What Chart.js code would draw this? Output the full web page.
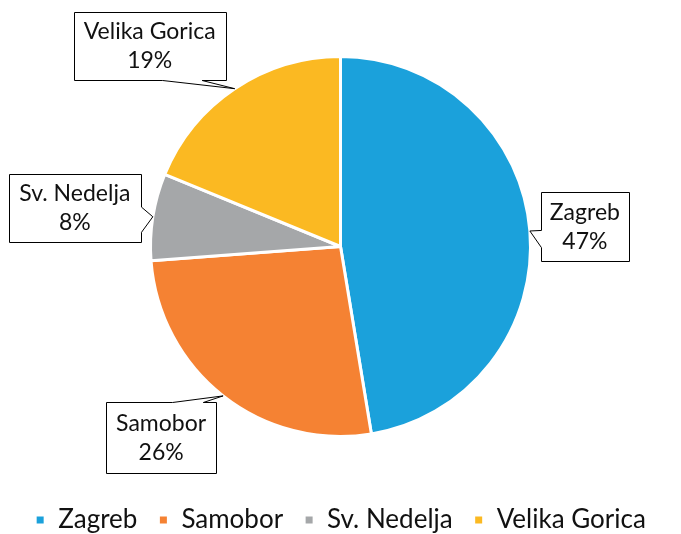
<!DOCTYPE html>
<html>
<head>
<meta charset="utf-8">
<script src="https://cdn.jsdelivr.net/npm/chart.js@4"></script>
<style>
  html, body { margin: 0; padding: 0; background: #fff; overflow: hidden; }
  #wrap { width: 681px; height: 543px; }
</style>
</head>
<body>
<div id="wrap"><canvas id="micanvas"></canvas></div>
<script>
let gradovi = ["Zagreb", "Samobor", "Sv. Nedelja", "Velika Gorica"]
let udjeli = [47.4, 26.4, 7.4, 18.8]
let postoci = ["47%", "26%", "8%", "19%"]
let boje = ["#1ba1db", "#f58233", "#a5a7a9", "#fbb922"]

// oblacici s natpisima: pomak od tocke na luku, strana s repom
let oblacici = [
  { dx: 55, dy: -4, w: 88, h: 69, strana: "left", od: 0.55, do: 0.8 },
  { dx: -62, dy: 42, w: 110, h: 71, strana: "top", od: 0.6, do: 0.88 },
  { dx: -78, dy: -9, w: 132, h: 68, strana: "right", od: 0.48, do: 0.85 },
  { dx: -85, dy: -43, w: 152, h: 68, strana: "bottom", od: 0.58, do: 0.84 }
]

const natpisi = {
  id: 'natpisi',
  afterDatasetsDraw(chart) {
    const ctx = chart.ctx
    const meta = chart.getDatasetMeta(0)
    meta.data.forEach((luk, i) => {
      const p = luk.getProps(['x', 'y', 'startAngle', 'endAngle', 'outerRadius'])
      const kut = (p.startAngle + p.endAngle) / 2
      const tx = p.x + Math.cos(kut) * p.outerRadius
      const ty = p.y + Math.sin(kut) * p.outerRadius
      const o = oblacici[i]
      const cx = tx + o.dx, cy = ty + o.dy
      const x0 = Math.round(cx - o.w / 2) + 0.5, y0 = Math.round(cy - o.h / 2) + 0.5
      const x1 = x0 + o.w, y1 = y0 + o.h
      // obrub s repom
      ctx.save()
      ctx.beginPath()
      ctx.moveTo(x0, y0)
      if (o.strana === "top") {
        ctx.lineTo(x0 + o.w * o.od, y0); ctx.lineTo(tx, ty); ctx.lineTo(x0 + o.w * o.do, y0)
      }
      ctx.lineTo(x1, y0)
      if (o.strana === "right") {
        ctx.lineTo(x1, y0 + o.h * o.od); ctx.lineTo(tx, ty); ctx.lineTo(x1, y0 + o.h * o.do)
      }
      ctx.lineTo(x1, y1)
      if (o.strana === "bottom") {
        ctx.lineTo(x0 + o.w * o.do, y1); ctx.lineTo(tx, ty); ctx.lineTo(x0 + o.w * o.od, y1)
      }
      ctx.lineTo(x0, y1)
      if (o.strana === "left") {
        ctx.lineTo(x0, y0 + o.h * o.do); ctx.lineTo(tx, ty); ctx.lineTo(x0, y0 + o.h * o.od)
      }
      ctx.closePath()
      ctx.fillStyle = '#ffffff'
      ctx.fill()
      ctx.strokeStyle = '#000000'
      ctx.lineWidth = 1
      ctx.stroke()
      ctx.fillStyle = '#111111'
      ctx.font = '23px Lato'
      ctx.textAlign = 'center'
      ctx.textBaseline = 'middle'
      ctx.fillText(gradovi[i], cx, cy - 14)
      ctx.fillText(postoci[i], cx, cy + 15)
      ctx.restore()
    })
  }
}

let contexto = document.getElementById('micanvas').getContext('2d')
let opciones = {
  type: 'pie',
  data: {
    labels: gradovi,
    datasets: [{
      data: udjeli,
      backgroundColor: boje,
      borderColor: '#ffffff',
      borderWidth: 3
    }]
  },
  options: {
    responsive: true,
    maintainAspectRatio: false,
    animation: false,
    radius: 190,
    layout: { padding: { top: 7, bottom: 0 } },
    plugins: {
      tooltip: { enabled: false },
      legend: {
        position: 'bottom',
        labels: {
          boxWidth: 10,
          boxHeight: 10,
          padding: 21,
          color: '#111111',
          font: { family: 'Lato', size: 26 }
        }
      }
    }
  },
  plugins: [natpisi]
}

let grafica = new Chart(contexto, opciones)
</script>
</body>
</html>
